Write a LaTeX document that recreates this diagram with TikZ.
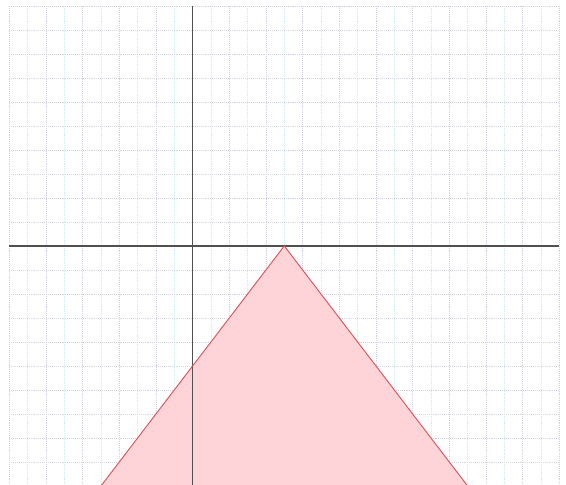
\documentclass[tikz,border=0pt]{standalone}
\definecolor{gridA}{RGB}{208,208,232}
\definecolor{gridB}{RGB}{200,235,240}
\definecolor{gridC}{RGB}{215,215,225}
\definecolor{fillpink}{RGB}{255,212,216}
\definecolor{edgered}{RGB}{220,80,85}
\definecolor{axisgray}{RGB}{80,80,80}
\begin{document}
\begin{tikzpicture}[x=0.5cm,y=0.6546cm,
  gridline/.style={gridA,densely dotted,line width=0.5pt},
  gridlineb/.style={gridB,densely dotted,line width=0.5pt},
  gridlinec/.style={gridC,densely dotted,line width=0.5pt},
  axisline/.style={axisgray,line width=1pt},
  region/.style={fill=fillpink},
  edge/.style={edgered,line width=0.7pt}]
\useasboundingbox[fill=white] (-10.51,-9.96) rectangle (20.37,10.25);
\foreach \i in {-10,-8,...,20} \draw[gridline] (\i,-10) -- (\i,10);
\foreach \i in {-9,-7,...,19} \draw[gridlineb] (\i,-10) -- (\i,10);
\foreach \j in {-10,-8,...,10} \draw[gridline] (-10,\j) -- (20,\j);
\foreach \j in {-9,-7,...,9} \draw[gridlinec] (-10,\j) -- (20,\j);
\coordinate (A) at (5,0);
\coordinate (B) at (-5,-10);
\coordinate (C) at (15,-10);
\fill[region] (B) -- (A) -- (C) -- cycle;
\draw[axisline] (-10,0) -- (20,0);
\draw[axisline] (0,-10) -- (0,10);
\draw[edge] (B) -- (A) -- (C);
\end{tikzpicture}
\end{document}
